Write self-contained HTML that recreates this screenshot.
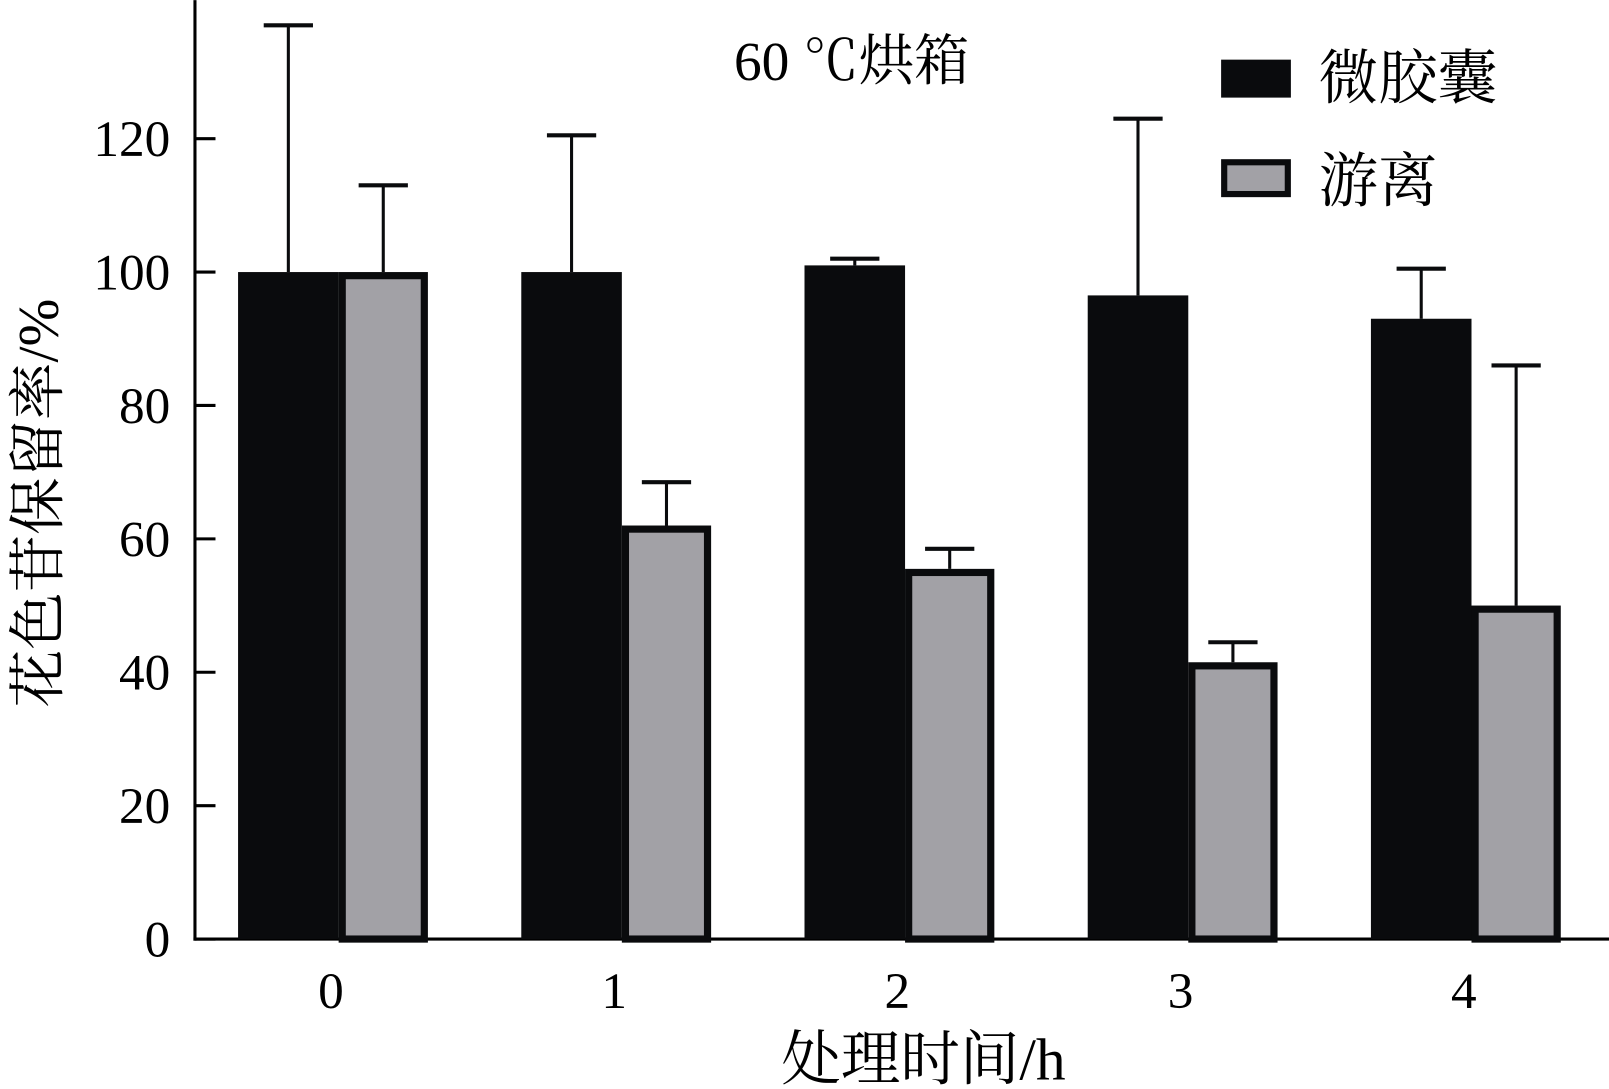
<!DOCTYPE html>
<html><head><meta charset="utf-8"><style>html,body{margin:0;padding:0;background:#fff}svg{display:block}</style></head>
<body>
<svg id="chart" width="1609" height="1089" viewBox="0 0 1568 1061" xmlns="http://www.w3.org/2000/svg" font-family="'Liberation Serif','Noto Serif CJK SC',serif">
<g id="axes"></g>
<g id="bars"></g>
<text x="830" y="78" font-size="54" text-anchor="middle">60 ℃烘箱</text>
<rect x="1190" y="58" width="68" height="37" fill="#0a0b0d"/>
<text x="1285" y="96" font-size="58">微胶囊</text>
<rect x="1193" y="158" width="62" height="31" fill="#a2a1a6" stroke="#0a0b0d" stroke-width="6"/>
<text x="1285" y="196" font-size="58">游离</text>
<text x="900" y="1052" font-size="58" text-anchor="middle">处理时间/h</text>
<text transform="translate(56,490) rotate(-90)" font-size="56" text-anchor="middle">花色苷保留率/%</text>
</svg>
<script>
const categories = ["0","1","2","3","4"];
const microValues = [100, 100, 101, 96.5, 93];
const microErrTop = [137, 120.5, 102, 123, 100.5];
const freeValues = [100, 62, 55.5, 41.5, 50];
const freeErrTop = [113, 68.5, 58.5, 44.5, 86];
const yTicks = [0, 20, 40, 60, 80, 100, 120];

const NS = "http://www.w3.org/2000/svg";
const y0 = 915, pxPerUnit = 6.5, axisX = 190;
const yScale = v => y0 - v * pxPerUnit;
const groupX = i => 232 + i * 276;
function mk(tag, attrs, parent) {
  const e = document.createElementNS(NS, tag);
  for (const k in attrs) e.setAttribute(k, attrs[k]);
  parent.appendChild(e); return e;
}
const axes = document.getElementById('axes');
const bars = document.getElementById('bars');

let l = mk('line', {x1: axisX, y1: 0, x2: axisX, y2: y0 + 1.5, stroke: '#000', 'stroke-width': 3}, axes);


l = mk('line', {x1: axisX - 1.5, y1: y0, x2: 1568, y2: y0, stroke: '#000', 'stroke-width': 3}, axes);



yTicks.forEach(t => {
  const y = yScale(t);
  const tk = mk('line', {x1: axisX, y1: y, x2: axisX + 20, y2: y, stroke: '#000', 'stroke-width': 3}, axes);
  
  
  const tx = mk('text', {x: 166, y: y + 17, 'font-size': 50, 'text-anchor': 'end'}, axes);
  tx.textContent = t;
  
  
});

function errBar(cx, top, v) {
  const ln = mk('line', {x1: cx, y1: yScale(top), x2: cx, y2: yScale(v), stroke: '#0a0b0d', 'stroke-width': 3}, bars);
  
  
  const cap = mk('line', {x1: cx - 24, y1: yScale(top), x2: cx + 24, y2: yScale(top), stroke: '#0a0b0d', 'stroke-width': 4}, bars);
  
  
}

categories.forEach((c, i) => {
  const gx = groupX(i);
  const bw = 98, fw = 87;
  errBar(gx + bw / 2, microErrTop[i], microValues[i]);
  errBar(gx + bw + fw / 2, freeErrTop[i], freeValues[i]);
  const b = mk('rect', {x: gx, y: yScale(microValues[i]), width: bw, height: y0 - yScale(microValues[i]), fill: '#0a0b0d'}, bars);
  
  
  const f = mk('rect', {x: gx + bw + 3.5, y: yScale(freeValues[i]) + 3.5, width: fw - 7, height: y0 - yScale(freeValues[i]) - 3.5, fill: '#a2a1a6', stroke: '#0a0b0d', 'stroke-width': 7}, bars);
  
  
  const tx = mk('text', {x: gx + (bw + fw) / 2 - 2, y: 982, 'font-size': 50, 'text-anchor': 'middle'}, axes);
  tx.textContent = c;
  
  
});
</script>
</body></html>
